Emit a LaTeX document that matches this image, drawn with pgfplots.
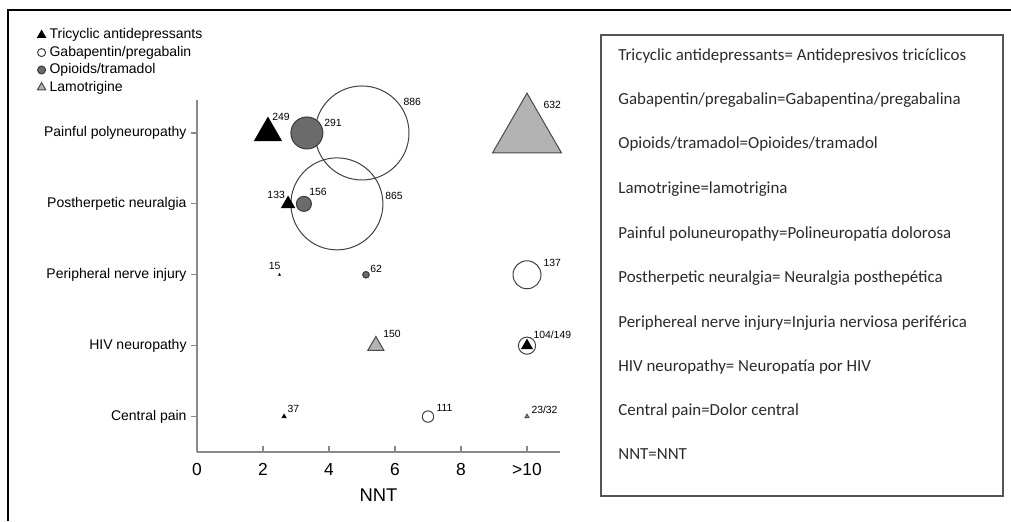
\documentclass[border=0pt]{standalone}
\usepackage{fontspec}
\setmainfont{Liberation Sans}
\newfontfamily\boxfont{Carlito}
\usepackage{pgfplots}
\pgfplotsset{compat=1.18}
\definecolor{opi}{HTML}{6B6B6B}
\definecolor{opiedge}{HTML}{3A3A3A}
\definecolor{lam}{HTML}{B3B3B3}
\definecolor{lamedge}{HTML}{4A4A4A}
\definecolor{axgray}{HTML}{8A8A8A}
\definecolor{boxgray}{HTML}{555555}
\definecolor{boxtext}{HTML}{2A2A2A}
\pgfplotsset{
  gab/.style={only marks, mark=o, mark options={draw=black!75, line width=0.5pt}, forget plot},
  opi/.style={only marks, mark=*, mark options={draw=opiedge, fill=opi, line width=0.5pt}, forget plot},
  tca/.style={only marks, mark=triangle*, mark options={draw=black, fill=black, line width=0.4pt}, forget plot},
  lam/.style={only marks, mark=triangle*, mark options={draw=lamedge, fill=lam, line width=0.5pt}, forget plot},
  lab/.style 2 args={every node near coord/.append style={xshift=#1, yshift=#2}},
}
\begin{document}
\begin{tikzpicture}
\path[use as bounding box] (0,0) rectangle (505.5pt,260.5pt);
\draw[line width=1pt] (4pt,0) -- (4pt,255.5pt) -- (505.5pt,255.5pt);
\begin{axis}[
  at={(98.5pt,34.5pt)}, anchor=south west,
  scale only axis, width=181.5pt, height=176pt,
  xmin=0, xmax=11, ymin=0.5, ymax=5.465,
  axis lines*=left, axis line style={-, draw=axgray, line width=0.6pt},
  tick pos=left, tick align=inside, major tick length=3pt,
  tick style={draw=axgray, line width=0.6pt},
  y tick style={xshift=-3pt},
  xtick={0,2,4,6,8,10}, xticklabels={0,2,4,6,8,{>10}},
  ytick={1,2,3,4,5},
  yticklabels={Central pain, HIV neuropathy, Peripheral nerve injury, Postherpetic neuralgia, Painful polyneuropathy},
  /pgf/number format/assume math mode=true,
  xticklabel style={font=\fontsize{8.7}{10}\selectfont, yshift=-2pt},
  yticklabel style={font=\fontsize{7}{8}\selectfont, xshift=-1.7pt},
  xlabel={NNT},
  xlabel style={font=\fontsize{9.2}{11}\selectfont, at={(0.5,0)}, anchor=center, yshift=-21.5pt},
  clip=false,
  nodes near coords, point meta=explicit symbolic,
  every node near coord/.append style={font=\fontsize{5.2}{6}\selectfont, anchor=west, inner sep=0pt},
  legend cell align=left,
  legend image code/.code={\draw[mark repeat=2,mark phase=2,#1,draw=none] plot coordinates {(0pt,0pt) (2.5pt,0pt) (5.5pt,0pt)};},
  legend style={draw=none, fill=none, at={(-0.443,1.21)}, anchor=north west, inner sep=0pt,
    font=\fontsize{7}{8}\selectfont, row sep=0pt,
    nodes={inner sep=1pt, text height=5.2pt, text depth=1.5pt}},
]
% Gabapentin/pregabalin (open circles)
\addplot[gab, mark size=23.5pt, lab={20.5pt}{15.5pt}] coordinates {(5.0,5) [886]};
\addplot[gab, mark size=23pt, lab={24pt}{4pt}] coordinates {(4.24,4) [865]};
\addplot[gab, mark size=7pt, lab={8pt}{6pt}] coordinates {(10,3) [137]};
\addplot[gab, mark size=4.3pt, lab={3pt}{5.5pt}] coordinates {(10,2) [104/149]};
\addplot[gab, mark size=2.85pt, lab={4pt}{4.5pt}] coordinates {(7.0,1) [111]};
% Opioids/tramadol
\addplot[opi, mark size=8pt, lab={8.5pt}{5pt}] coordinates {(3.33,5) [291]};
\addplot[opi, mark size=3.75pt, lab={2.5pt}{6pt}] coordinates {(3.24,4) [156]};
\addplot[opi, mark size=1.65pt, lab={2pt}{3pt}] coordinates {(5.12,3) [62]};
% Tricyclic antidepressants
\addplot[tca, mark size=7.8pt, lab={2pt}{8pt}] coordinates {(2.15,5) [249]};
\addplot[tca, mark size=3.75pt, lab={-10.5pt}{4.5pt}] coordinates {(2.76,4) [133]};
\addplot[tca, mark size=0.5pt, lab={-5.5pt}{4.5pt}] coordinates {(2.5,3) [15]};
\addplot[tca, mark size=3.1pt, lab={0pt}{0pt}, nodes near coords={}] coordinates {(10,2) [ ]};
\addplot[tca, mark size=1.15pt, lab={1.5pt}{4pt}] coordinates {(2.64,1) [37]};
% Lamotrigine
\addplot[lam, mark size=19.9pt, lab={8pt}{14pt}] coordinates {(10,5) [632]};
\addplot[lam, mark size=4.6pt, lab={3.5pt}{6pt}] coordinates {(5.42,2) [150]};
\addplot[lam, mark size=1.15pt, lab={2pt}{3.5pt}] coordinates {(10,1) [23/32]};
% legend
\addlegendimage{mark=triangle*, mark options={draw=black, fill=black}, mark size=2.4pt}
\addlegendentry{Tricyclic antidepressants}
\addlegendimage{mark=o, mark options={draw=black!75, line width=0.5pt}, mark size=2pt}
\addlegendentry{Gabapentin/pregabalin}
\addlegendimage{mark=*, mark options={draw=opiedge, fill=opi, line width=0.5pt}, mark size=2pt}
\addlegendentry{Opioids/tramadol}
\addlegendimage{mark=triangle*, mark options={draw=lamedge, fill=lam, line width=0.5pt}, mark size=2.4pt}
\addlegendentry{Lamotrigine}
\end{axis}
\draw[boxgray, line width=1pt] (300.5pt,12.5pt) rectangle (501.5pt,243pt);
\begin{scope}[every node/.style={anchor=base west, inner sep=0pt, font=\boxfont\fontsize{8.45}{9}\selectfont, text=boxtext}]
\node at (309pt,230.25pt) {Tricyclic antidepressants= Antidepresivos tricíclicos};
\node at (309pt,208.25pt) {Gabapentin/pregabalin=Gabapentina/pregabalina};
\node at (309pt,186.25pt) {Opioids/tramadol=Opioides/tramadol};
\node at (309pt,163.75pt) {Lamotrigine=lamotrigina};
\node at (309pt,141.25pt) {Painful poluneuropathy=Polineuropatía dolorosa};
\node at (309pt,119.25pt) {Postherpetic neuralgia= Neuralgia posthepética};
\node at (309pt,96.75pt) {Periphereal nerve injury=Injuria nerviosa periférica};
\node at (309pt,74.75pt) {HIV neuropathy= Neuropatía por HIV};
\node at (309pt,52.75pt) {Central pain=Dolor central};
\node at (309pt,30.75pt) {NNT=NNT};
\end{scope}
\end{tikzpicture}
\end{document}
